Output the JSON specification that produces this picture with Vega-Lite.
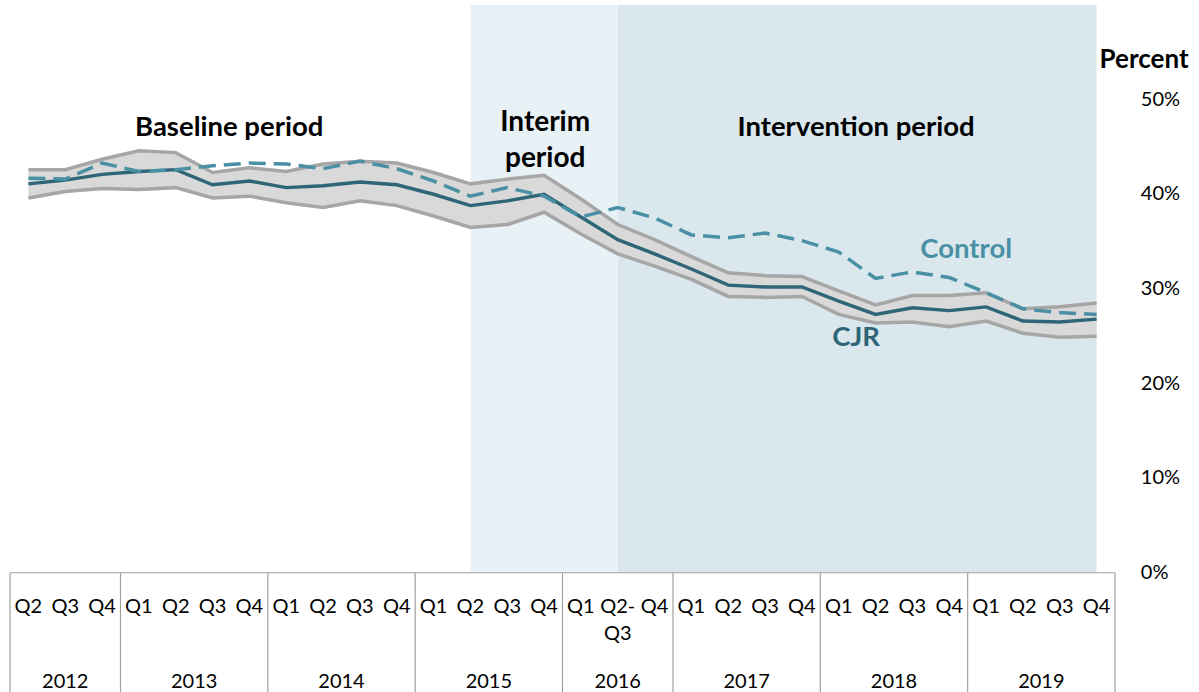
{
  "$schema": "https://vega.github.io/schema/vega-lite/v6.json",
  "width": 1105,
  "height": 687,
  "autosize": {"type": "none"},
  "padding": {"left": 10, "top": 5, "right": 84, "bottom": 0},
  "background": "white",
  "config": {"view": {"stroke": null}, "font": "Lato", "text": {"font": "Lato"}},
  "datasets": {
    "series": [
      {"i": 0, "q": "Q2", "year": "2012", "lower": 0.396, "cjr": 0.411, "upper": 0.426, "control": 0.417},
      {"i": 1, "q": "Q3", "year": "2012", "lower": 0.403, "cjr": 0.415, "upper": 0.426, "control": 0.416},
      {"i": 2, "q": "Q4", "year": "2012", "lower": 0.406, "cjr": 0.421, "upper": 0.437, "control": 0.433},
      {"i": 3, "q": "Q1", "year": "2013", "lower": 0.405, "cjr": 0.424, "upper": 0.446, "control": 0.424},
      {"i": 4, "q": "Q2", "year": "2013", "lower": 0.407, "cjr": 0.426, "upper": 0.444, "control": 0.426},
      {"i": 5, "q": "Q3", "year": "2013", "lower": 0.396, "cjr": 0.410, "upper": 0.423, "control": 0.430},
      {"i": 6, "q": "Q4", "year": "2013", "lower": 0.398, "cjr": 0.414, "upper": 0.428, "control": 0.433},
      {"i": 7, "q": "Q1", "year": "2014", "lower": 0.391, "cjr": 0.407, "upper": 0.424, "control": 0.432},
      {"i": 8, "q": "Q2", "year": "2014", "lower": 0.386, "cjr": 0.409, "upper": 0.432, "control": 0.427},
      {"i": 9, "q": "Q3", "year": "2014", "lower": 0.393, "cjr": 0.413, "upper": 0.435, "control": 0.435},
      {"i": 10, "q": "Q4", "year": "2014", "lower": 0.388, "cjr": 0.410, "upper": 0.433, "control": 0.427},
      {"i": 11, "q": "Q1", "year": "2015", "lower": 0.377, "cjr": 0.400, "upper": 0.423, "control": 0.414},
      {"i": 12, "q": "Q2", "year": "2015", "lower": 0.365, "cjr": 0.388, "upper": 0.411, "control": 0.398},
      {"i": 13, "q": "Q3", "year": "2015", "lower": 0.368, "cjr": 0.393, "upper": 0.416, "control": 0.407},
      {"i": 14, "q": "Q4", "year": "2015", "lower": 0.381, "cjr": 0.400, "upper": 0.420, "control": 0.398},
      {"i": 15, "q": "Q1", "year": "2016", "lower": 0.358, "cjr": 0.376, "upper": 0.395, "control": 0.376},
      {"i": 16, "q": "Q2-\nQ3", "year": "2016", "lower": 0.337, "cjr": 0.352, "upper": 0.368, "control": 0.386},
      {"i": 17, "q": "Q4", "year": "2016", "lower": 0.324, "cjr": 0.337, "upper": 0.352, "control": 0.375},
      {"i": 18, "q": "Q1", "year": "2017", "lower": 0.310, "cjr": 0.321, "upper": 0.334, "control": 0.357},
      {"i": 19, "q": "Q2", "year": "2017", "lower": 0.292, "cjr": 0.304, "upper": 0.317, "control": 0.354},
      {"i": 20, "q": "Q3", "year": "2017", "lower": 0.291, "cjr": 0.302, "upper": 0.314, "control": 0.359},
      {"i": 21, "q": "Q4", "year": "2017", "lower": 0.292, "cjr": 0.302, "upper": 0.313, "control": 0.351},
      {"i": 22, "q": "Q1", "year": "2018", "lower": 0.273, "cjr": 0.287, "upper": 0.298, "control": 0.339},
      {"i": 23, "q": "Q2", "year": "2018", "lower": 0.264, "cjr": 0.273, "upper": 0.283, "control": 0.311},
      {"i": 24, "q": "Q3", "year": "2018", "lower": 0.265, "cjr": 0.280, "upper": 0.293, "control": 0.318},
      {"i": 25, "q": "Q4", "year": "2018", "lower": 0.260, "cjr": 0.277, "upper": 0.293, "control": 0.312},
      {"i": 26, "q": "Q1", "year": "2019", "lower": 0.266, "cjr": 0.281, "upper": 0.296, "control": 0.296},
      {"i": 27, "q": "Q2", "year": "2019", "lower": 0.253, "cjr": 0.266, "upper": 0.279, "control": 0.279},
      {"i": 28, "q": "Q3", "year": "2019", "lower": 0.249, "cjr": 0.265, "upper": 0.281, "control": 0.275},
      {"i": 29, "q": "Q4", "year": "2019", "lower": 0.250, "cjr": 0.268, "upper": 0.285, "control": 0.273}
    ],
    "periods": [
      {"period": "Interim", "start": 12, "end": 16},
      {"period": "Intervention", "start": 16, "end": 29}
    ],
    "bounds": [
      {"b": -0.5}, {"b": 2.5}, {"b": 6.5}, {"b": 10.5}, {"b": 14.5},
      {"b": 17.5}, {"b": 21.5}, {"b": 25.5}, {"b": 29.5}
    ],
    "ticks": [
      {"v": 0, "label": "0%"}, {"v": 0.1, "label": "10%"}, {"v": 0.2, "label": "20%"},
      {"v": 0.3, "label": "30%"}, {"v": 0.4, "label": "40%"}, {"v": 0.5, "label": "50%"}
    ],
    "notes": [
      {"label": "Baseline period", "x": 5.45, "y": 0.470},
      {"label": "Intervention period", "x": 22.47, "y": 0.470}
    ]
  },
  "layer": [
    {
      "data": {"name": "periods"},
      "mark": {"type": "rect"},
      "encoding": {
        "x": {"field": "start", "type": "quantitative", "scale": {"domain": [-0.5, 29.5], "nice": false, "zero": false}, "axis": null},
        "x2": {"field": "end"},
        "y": {"datum": 0, "type": "quantitative", "scale": {"domain": [-0.126, 0.6], "nice": false, "zero": false}, "axis": null},
        "y2": {"datum": 0.6},
        "color": {"field": "period", "type": "nominal", "scale": {"domain": ["Interim", "Intervention"], "range": ["#E8F1F5", "#DAE8EE"]}, "legend": null}
      }
    },
    {
      "data": {"name": "series"},
      "mark": {"type": "area", "color": "#D9D9D9", "opacity": 1},
      "encoding": {
        "x": {"field": "i", "type": "quantitative", "axis": null},
        "y": {"field": "lower", "type": "quantitative", "axis": null},
        "y2": {"field": "upper"}
      }
    },
    {
      "data": {"name": "series"},
      "transform": [{"fold": ["lower", "upper"], "as": ["bound", "v"]}],
      "mark": {"type": "line", "color": "#A6A6A6", "strokeWidth": 3.5},
      "encoding": {
        "x": {"field": "i", "type": "quantitative", "axis": null},
        "y": {"field": "v", "type": "quantitative", "axis": null},
        "detail": {"field": "bound"}
      }
    },
    {
      "data": {"name": "series"},
      "mark": {"type": "line", "color": "#2E6677", "strokeWidth": 3.4},
      "encoding": {
        "x": {"field": "i", "type": "quantitative", "axis": null},
        "y": {"field": "cjr", "type": "quantitative", "axis": null}
      }
    },
    {
      "data": {"name": "series"},
      "mark": {"type": "line", "color": "#4A90A4", "strokeWidth": 3.5, "strokeDash": [17, 8]},
      "encoding": {
        "x": {"field": "i", "type": "quantitative", "axis": null},
        "y": {"field": "control", "type": "quantitative", "axis": null}
      }
    },
    {
      "data": {"name": "notes"},
      "mark": {"type": "text", "fontSize": 27.5, "fontWeight": "bold", "color": "#000000", "baseline": "middle", "align": "center"},
      "encoding": {
        "x": {"field": "x", "type": "quantitative", "axis": null},
        "y": {"field": "y", "type": "quantitative", "axis": null},
        "text": {"field": "label"}
      }
    },
    {
      "data": {"values": [{"label": "Interim\nperiod", "x": 14.03, "y": 0.4668}]},
      "mark": {"type": "text", "fontSize": 28, "fontWeight": "bold", "color": "#000000", "baseline": "alphabetic", "align": "center", "lineBreak": "\n", "lineHeight": 36},
      "encoding": {
        "x": {"field": "x", "type": "quantitative", "axis": null},
        "y": {"field": "y", "type": "quantitative", "axis": null},
        "text": {"field": "label"}
      }
    },
    {
      "data": {"values": [{"label": "Control", "x": 25.46, "y": 0.3411}]},
      "mark": {"type": "text", "fontSize": 27.5, "fontWeight": "bold", "color": "#4A90A4", "baseline": "middle", "align": "center"},
      "encoding": {
        "x": {"field": "x", "type": "quantitative", "axis": null},
        "y": {"field": "y", "type": "quantitative", "axis": null},
        "text": {"field": "label"}
      }
    },
    {
      "data": {"values": [{"label": "CJR", "x": 22.47, "y": 0.2481}]},
      "mark": {"type": "text", "fontSize": 27.5, "fontWeight": "bold", "color": "#2E6677", "baseline": "middle", "align": "center"},
      "encoding": {
        "x": {"field": "x", "type": "quantitative", "axis": null},
        "y": {"field": "y", "type": "quantitative", "axis": null},
        "text": {"field": "label"}
      }
    },
    {
      "data": {"name": "ticks"},
      "mark": {"type": "text", "fontSize": 20, "color": "#000000", "baseline": "middle", "align": "left"},
      "encoding": {
        "x": {"datum": 30.2, "type": "quantitative", "axis": null},
        "y": {"field": "v", "type": "quantitative", "axis": null},
        "text": {"field": "label"}
      }
    },
    {
      "data": {"values": [{"label": "Percent"}]},
      "mark": {"type": "text", "fontSize": 26, "fontWeight": "bold", "color": "#000000", "baseline": "middle", "align": "center"},
      "encoding": {
        "x": {"datum": 30.29, "type": "quantitative", "axis": null},
        "y": {"datum": 0.5419, "type": "quantitative", "axis": null},
        "text": {"field": "label"}
      }
    },
    {
      "data": {"name": "bounds"},
      "mark": {"type": "rule", "color": "#A0A0A0", "strokeWidth": 1.2},
      "encoding": {
        "x": {"field": "b", "type": "quantitative", "axis": null},
        "y": {"datum": 0, "axis": null},
        "y2": {"datum": -0.126}
      }
    },
    {
      "data": {"values": [{"from": -0.5, "to": 29.5}]},
      "mark": {"type": "rule", "color": "#A0A0A0", "strokeWidth": 1.2},
      "encoding": {
        "x": {"field": "from", "type": "quantitative", "axis": null},
        "x2": {"field": "to"},
        "y": {"datum": 0, "axis": null}
      }
    },
    {
      "data": {"name": "series"},
      "mark": {"type": "text", "fontSize": 20, "color": "#000000", "baseline": "alphabetic", "align": "center", "lineBreak": "\n", "lineHeight": 27},
      "encoding": {
        "x": {"field": "i", "type": "quantitative", "axis": null},
        "y": {"datum": -0.0425, "axis": null},
        "text": {"field": "q"}
      }
    },
    {
      "data": {"name": "series"},
      "mark": {"type": "text", "fontSize": 20, "color": "#000000", "baseline": "alphabetic", "align": "center"},
      "encoding": {
        "x": {"aggregate": "mean", "field": "i", "type": "quantitative", "axis": null},
        "y": {"datum": -0.1221, "axis": null},
        "text": {"field": "year"}
      }
    }
  ]
}
